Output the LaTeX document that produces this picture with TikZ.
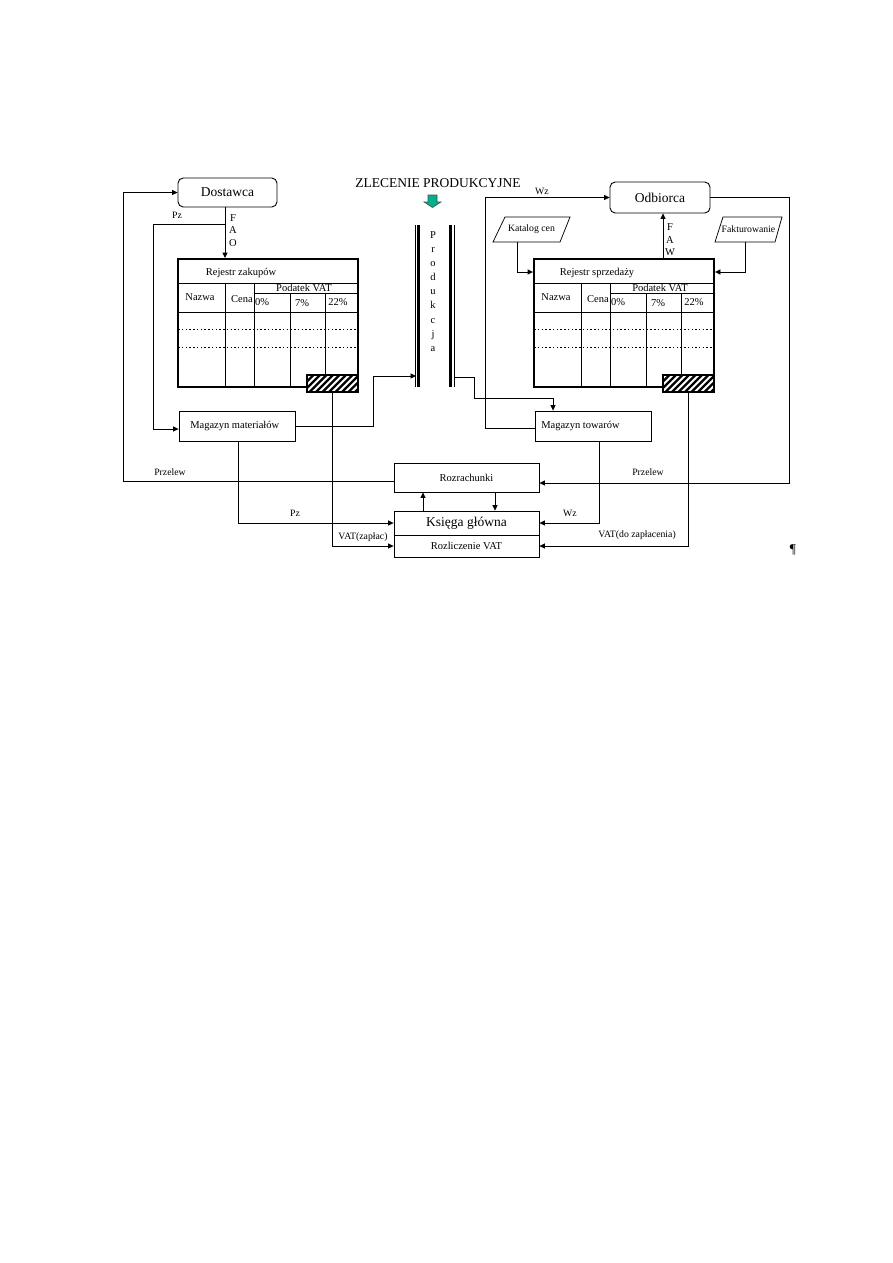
\documentclass[tikz,border=0pt]{standalone}
\usepackage{fontspec}
\setmainfont{Liberation Serif}
\usetikzlibrary{arrows.meta,fit}
\definecolor{zlgreen}{RGB}{0,178,140}

\tikzset{
  box/.style={draw, line width=0.6pt, inner sep=0pt},
  rbox/.style={box, rounded corners=3.5pt},
  big/.style={font=\fontsize{9}{11}\selectfont, inner sep=0pt},
  small/.style={font=\fontsize{7}{8}\selectfont, inner sep=0pt},
  tiny/.style={font=\fontsize{6.5}{7.5}\selectfont, inner sep=0pt},
  conn/.style={line width=0.5pt, -{Triangle[length=3.6pt,width=3.4pt]}},
}

\begin{document}
\begin{tikzpicture}[x=0.6667pt, y=-0.6667pt]
\useasboundingbox (0,0) rectangle (893,1263);

% boxes on top
\node[rbox, fit={(178,178) (277,207)}] (dost) {};
\node[big] (dostt) at (dost) {Dostawca};
\node[rbox, fit={(610,182) (710,213)}] (odb) {};
\node[big] (odbt) at (odb) {Odbiorca};
\node[big] (zlec) at (438,183) {ZLECENIE PRODUKCYJNE};
\filldraw[fill=zlgreen, draw=black!70, line width=0.4pt] (428,195) -- (437,195) -- (437,202) -- (441,202) -- (432.5,207.5) -- (424,202) -- (428,202) -- cycle;

% produkcja
\draw[line width=0.5pt] (415,225) -- (415,387) (454,225) -- (454,387);
\draw[line width=1.6pt] (418.5,225) -- (418.5,387) (450.5,225) -- (450.5,387);
\node[small, align=center, font=\fontsize{7}{9.4}\selectfont] (prod) at (433,291.5) {P\\r\\o\\d\\u\\k\\c\\j\\a};
\coordinate (prodin) at (416,376);
\coordinate (prodout) at (454,377);

% rejestry
\foreach \tx/\tn/\ttl in {178/zak/Rejestr zakupów, 534/sprz/Rejestr sprzedaży}{
  \node[draw, line width=1.3pt, inner sep=0pt, fit={(\tx,259) (\tx+180,387)}] (\tn) {};
  \begin{scope}[shift={(\tx,259)}]
    \draw[line width=0.5pt] (0,24) -- (180,24) (76,34) -- (180,34) (0,53) -- (180,53)
      (47,24) -- (47,128) (76,24) -- (76,128) (112,34) -- (112,128) (147,34) -- (147,128);
    \draw[line width=0.4pt, dash pattern=on 1pt off 1.5pt] (0,70) -- (180,70) (0,88) -- (180,88);
    \node[small] (\tn-t) at (63,14) {\ttl};
    \node[small] (\tn-n) at (22,38) {Nazwa};
    \node[small] (\tn-c) at (64,40) {Cena};
    \node[small] (\tn-p) at (126,29) {Podatek VAT};
    \node[small] (\tn-a) at (84,43) {0\%};
    \node[small] (\tn-b) at (124,44) {7\%};
    \node[small] (\tn-d) at (160,43) {22\%};
    \fill[white] (129,116) rectangle (180,133);
    \begin{scope}
      \clip (129,116) rectangle (180,133);
      \foreach \s in {0,...,11} \draw[line width=1.5pt] (112+\s*6.5,133) -- ++(17,-17);
    \end{scope}
  \end{scope}
  \node[draw, line width=0.7pt, inner sep=0pt, fit={(\tx+129,375) (\tx+180,392)}] (\tn-vat) {};
}

% magazyny, ksiegowanie
\node[box, fit={(179,411) (295,441)}] (mat) {};
\node[small, anchor=west] (matt) at (190,426) {Magazyn materiałów};
\node[box, fit={(535,411) (651,441)}] (tow) {};
\node[small, anchor=west] (towt) at (541,426) {Magazyn towarów};
\node[box, fit={(394,463) (539,492)}] (rozr) {};
\node[small] (rozrt) at (rozr) {Rozrachunki};
\node[box, fit={(394,511) (539,535)}] (ksg) {};
\node[big] (ksgt) at (ksg) {Księga główna};
\node[box, fit={(394,535) (539,557)}] (rvat) {};
\node[small] (rvatt) at (rvat) {Rozliczenie VAT};

% katalog, fakturowanie
\draw[line width=0.5pt] (505,217) -- (570,217) -- (560,242) -- (493,242) -- cycle;
\node[fit={(493,217) (570,242)}, inner sep=0pt] (katalog) {};
\node[tiny] (katalogt) at (katalog) {Katalog cen};
\draw[line width=0.5pt] (723,217) -- (782,217) -- (775,242) -- (715,242) -- cycle;
\node[fit={(715,217) (782,242)}, inner sep=0pt] (faktur) {};
\node[tiny] (fakturt) at (faktur) {Fakturowanie};

% labels
\node[tiny] (pz1) at (177,215) {Pz};
\node[small, align=center, font=\fontsize{7}{8.3}\selectfont] (fao) at (233,230.5) {F\\A\\O};
\node[small, align=center, font=\fontsize{7}{8.3}\selectfont] (faw) at (670,240) {F\\A\\W};
\node[tiny] (wz1) at (542,191) {Wz};
\node[tiny] (prz1) at (170,472) {Przelew};
\node[tiny] (prz2) at (648,472) {Przelew};
\node[tiny] (pz2) at (295,513) {Pz};
\node[tiny] (wz2) at (570,513) {Wz};
\node[tiny] (vatz) at (363,537) {VAT(zapłac)};
\node[tiny] (vatd) at (637,535) {VAT(do zapłacenia)};
\node[big] (para) at (793,550) {¶};

% bend points
\coordinate (faoy) at (225,224);
\coordinate (pzc) at (153,429);
\coordinate (lp) at (123,481);
\coordinate (rp) at (789,483);
\coordinate (wzb) at (485,428);
\coordinate (mp) at (373,376);
\coordinate (pt) at (474,398);
\coordinate (pt2) at (553,398);
\coordinate (kt) at (517,272);
\coordinate (ft) at (745,272);
\coordinate (fw) at (663,240);
\coordinate (pzb) at (238,523);
\coordinate (vl) at (330,546);
\coordinate (wzd) at (599,523);
\coordinate (up) at (423,500);
\coordinate (dn) at (495,500);

% connectors
\draw[conn] (dost.south -| faoy) -- (faoy |- zak.north);
\draw[conn] (faoy) -- (faoy -| pzc) -- (pzc) -- (pzc -| mat.west);
\draw[conn] (lp -| rozr.west) -- (lp) -- (lp |- dost.west) -- (dost.west);
\draw[conn] (odb.east) -- (odb.east -| rp) -- (rp) -- (rp -| rozr.east);
\draw[conn] (wzb -| tow.west) -- (wzb) -- (wzb |- odb.west) -- (odb.west);
\draw[conn] (mat.east) -- (mat.east -| mp) -- (mp) -- (prodin);
\draw[conn] (prodout) -- (prodout -| pt) -- (pt) -- (pt2) -- (pt2 |- tow.north);
\draw[conn] (katalog.south -| kt) -- (kt) -- (kt -| sprz.west);
\draw[conn] (faktur.south -| ft) -- (ft) -- (ft -| sprz.east);
\draw[conn] (sprz.north -| fw) -- (fw |- odb.south);
\draw[conn] (mat.south -| pzb) -- (pzb) -- (pzb -| ksg.west);
\draw[conn] (zak-vat.south) -- (zak-vat.south |- vl) -- (vl -| rvat.west);
\draw[conn] (tow.south -| wzd) -- (wzd) -- (wzd -| ksg.east);
\draw[conn] (sprz-vat.south) -- (sprz-vat.south |- rvat.east) -- (rvat.east);
\draw[conn] (ksg.north -| up) -- (rozr.south -| up);
\draw[conn] (rozr.south -| dn) -- (ksg.north -| dn);
\end{tikzpicture}
\end{document}
